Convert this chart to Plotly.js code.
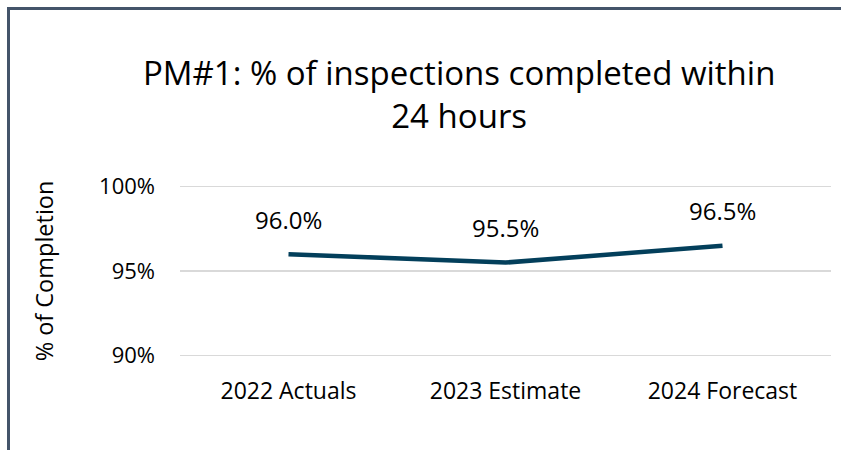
<!DOCTYPE html>
<html>
<head>
<meta charset="utf-8">
<script src="https://cdn.plot.ly/plotly-3.0.1.min.js"></script>
<style>
html,body{margin:0;padding:0;background:#fff;}
#wrap{position:relative;width:841px;height:450px;overflow:hidden;}
#chart{position:absolute;left:0;top:0;width:841px;height:450px;}
#frame{position:absolute;left:7px;top:7px;width:900px;height:500px;border-top:3px solid #44546A;border-left:3px solid #44546A;pointer-events:none;}
</style>
</head>
<body>
<div id="wrap">
<div id="chart"></div>
<div id="frame"></div>
</div>
<script>
const categories = ["2022 Actuals", "2023 Estimate", "2024 Forecast"];
const completion = [96.0, 95.5, 96.5];
const yTickVals = [90, 95, 100];
const yTickText = ["90%", "95%", "100%"];

const FONT = "'Open Sans', sans-serif";

const trace = {
  type: "scatter",
  mode: "lines",
  x: categories,
  y: completion,
  line: {color: "#033F5B", width: 4.5},
  hoverinfo: "skip",
  showlegend: false
};

const labels = categories.map((c, i) => ({
  x: c, y: completion[i], xref: "x", yref: "y",
  text: completion[i].toFixed(1) + "%",
  showarrow: false, yanchor: "middle", yshift: 35,
  font: {family: FONT, size: 24, color: "#000"}
}));

const layout = {
  width: 841, height: 450,
  margin: {l: 180, r: 10, t: 185.3, b: 93.3},
  paper_bgcolor: "rgba(0,0,0,0)",
  plot_bgcolor: "rgba(0,0,0,0)",
  font: {family: FONT, color: "#000"},
  title: {
    text: "PM#1: % of inspections completed within<br>24 hours",
    font: {family: FONT, size: 33, color: "#000"},
    x: 0.546, xanchor: "center",
    y: 0.812, yanchor: "top", yref: "container"
  },
  xaxis: {
    type: "category",
    range: [-0.5, 2.5],
    showgrid: false, zeroline: false, showline: false,
    ticks: "", ticklabelstandoff: 18,
    tickfont: {family: FONT, size: 23, color: "#000"},
    fixedrange: true
  },
  yaxis: {
    range: [89.9, 100.1],
    tickvals: yTickVals, ticktext: yTickText,
    showgrid: true, gridcolor: "#D9D9D9", gridwidth: 1.5,
    zeroline: false, showline: false,
    ticks: "", ticklabelstandoff: 24,
    tickfont: {family: FONT, size: 22, color: "#000"},
    title: {text: "% of Completion", font: {family: FONT, size: 23.5, color: "#000"}, standoff: 38},
    automargin: false,
    fixedrange: true
  },
  annotations: labels
};

Plotly.newPlot("chart", [trace], layout, {displayModeBar: false, staticPlot: true});
</script>
</body>
</html>
